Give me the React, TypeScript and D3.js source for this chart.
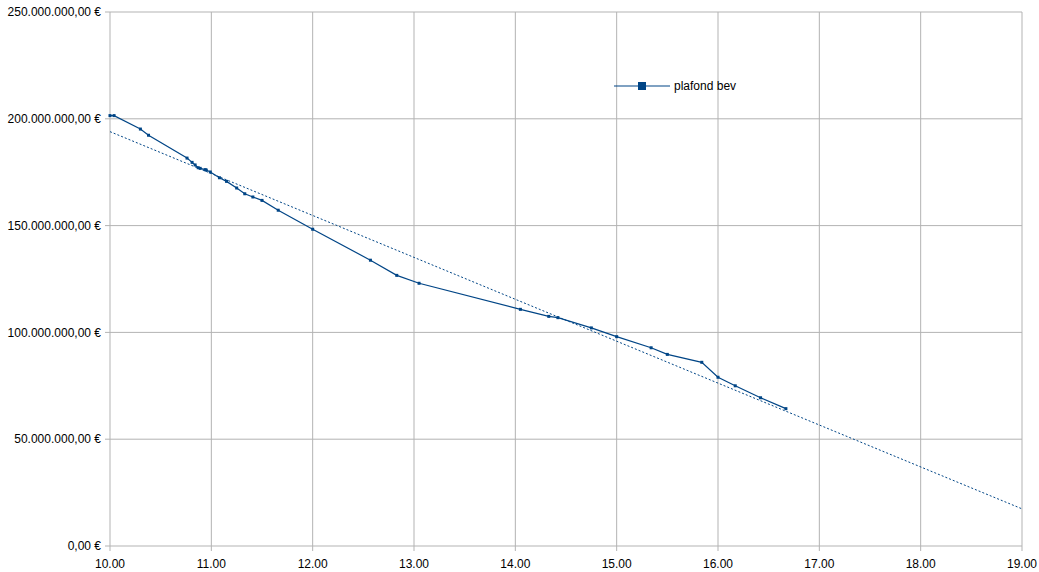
import { useMemo } from 'react';
import * as d3 from 'd3';

// hours of the day (x) and remaining ceiling in euro (y)
const hours = [
  10.0, 10.04, 10.3, 10.38, 10.76, 10.81, 10.84, 10.87, 10.89, 10.94, 10.95, 10.99,
  11.08, 11.15, 11.25, 11.33, 11.41, 11.5, 11.66, 12.0, 12.57, 12.83, 13.05, 14.05,
  14.33, 14.42, 14.75, 15.0, 15.34, 15.5, 15.84, 16.0, 16.17, 16.42, 16.67,
];
const plafond = [
  201.5e6, 201.5e6, 195.2e6, 192.3e6, 181.6e6, 179.6e6, 178.4e6, 177.1e6, 176.8e6, 176.2e6, 176.0e6, 175.1e6,
  172.4e6, 170.7e6, 167.6e6, 164.9e6, 163.4e6, 161.8e6, 157.2e6, 148.3e6, 133.8e6, 126.7e6, 123.0e6, 110.8e6,
  107.5e6, 106.9e6, 102.1e6, 98.0e6, 92.8e6, 89.7e6, 86.0e6, 79.0e6, 75.0e6, 69.4e6, 64.3e6,
];
const seriesName = 'plafond bev';
const xTicks = [10, 11, 12, 13, 14, 15, 16, 17, 18, 19];
const yTicks = [0, 50e6, 100e6, 150e6, 200e6, 250e6];

const W = 1039;
const H = 572;
const margin = { top: 12, right: 17, bottom: 26, left: 110 };
const color = '#004586';
const gridColor = '#b3b3b3';
const font = '"Liberation Sans", Arial, sans-serif';

const euro = d3.formatLocale({
  decimal: ',',
  thousands: '.',
  grouping: [3],
  currency: ['', ' €'],
}).format('$,.2f');
const hourFmt = d3.format('.2f');

export default function App() {
  const points = hours.map((h, i) => ({ x: h, y: plafond[i] }));

  const x = d3.scaleLinear().domain([10, 19]).range([margin.left, W - margin.right]);
  const y = d3.scaleLinear().domain([0, 250e6]).range([H - margin.bottom, margin.top]);

  // least-squares trend line
  const trend = useMemo(() => {
    const mx = d3.mean(hours)!;
    const my = d3.mean(plafond)!;
    let num = 0;
    let den = 0;
    hours.forEach((h, i) => {
      num += (h - mx) * (plafond[i] - my);
      den += (h - mx) * (h - mx);
    });
    const slope = num / den;
    const b = my - slope * mx;
    return (v: number) => b + slope * v;
  }, []);

  const line = d3.line<{ x: number; y: number }>().x((d) => x(d.x)).y((d) => y(d.y));
  const trendPts = [10, 19].map((v) => ({ x: v, y: trend(v) }));

  const legendX = 614;
  const legendY = 86;

  return (
    <svg
      width={W}
      height={H}
      style={{ position: 'absolute', left: 0, top: 0, background: '#fff' }}
      fontFamily={font}
    >
      {/* grid */}
      {yTicks.map((t) => (
        <g key={`y${t}`}>
          <line x1={x(10) - 5} x2={x(19)} y1={y(t)} y2={y(t)} stroke={gridColor} />
          <text x={x(10) - 9} y={y(t)} dy="0.35em" textAnchor="end" fontSize={12} fill="#000">
            {euro(t)}
          </text>
        </g>
      ))}
      {xTicks.map((t) => (
        <g key={`x${t}`}>
          <line x1={x(t)} x2={x(t)} y1={y(250e6)} y2={y(0) + 5} stroke={gridColor} />
          <text x={x(t)} y={y(0) + 22} textAnchor="middle" fontSize={12} fill="#000">
            {hourFmt(t)}
          </text>
        </g>
      ))}

      {/* trend line */}
      <path
        d={line(trendPts) || ''}
        fill="none"
        stroke={color}
        strokeWidth={1}
        strokeDasharray="2 2"
      />

      {/* series */}
      <path d={line(points) || ''} fill="none" stroke={color} strokeWidth={1.2} />
      {points.map((p, i) => (
        <rect key={i} x={x(p.x) - 1.5} y={y(p.y) - 1.5} width={3} height={3} fill={color} />
      ))}

      {/* legend */}
      <line x1={legendX} x2={legendX + 56} y1={legendY} y2={legendY} stroke={color} strokeWidth={1.2} />
      <rect x={legendX + 24} y={legendY - 4} width={8} height={8} fill={color} />
      <text x={legendX + 60} y={legendY} dy="0.35em" fontSize={12} fill="#000">
        {seriesName}
      </text>
    </svg>
  );
}
